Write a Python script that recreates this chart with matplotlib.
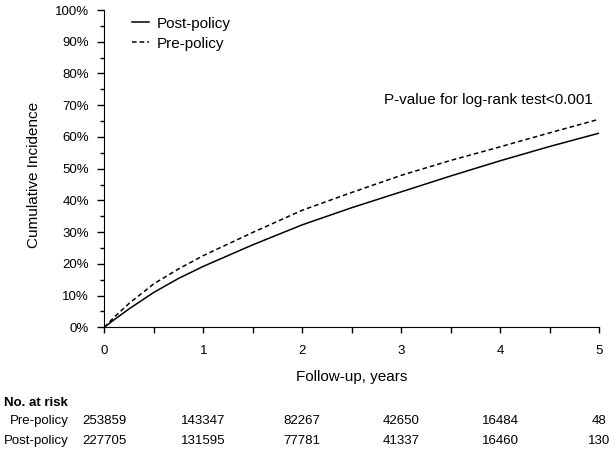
import matplotlib
matplotlib.use("Agg")
import matplotlib.pyplot as plt
from matplotlib.ticker import MultipleLocator, PercentFormatter
from matplotlib.transforms import blended_transform_factory

plt.rcParams['font.family'] = ['Liberation Sans', 'DejaVu Sans']

# cumulative incidence (%)
years = [0, 0.1, 0.25, 0.5, 0.75, 1, 1.5, 2, 2.5, 3, 3.5, 4, 4.5, 5]
post_policy = [0, 2.4, 5.8, 11.0, 15.4, 19.2, 26.0, 32.3, 37.7, 42.7, 47.7, 52.5, 57.0, 61.2]
pre_policy = [0, 3.2, 7.5, 13.7, 18.4, 22.6, 29.9, 36.9, 42.5, 47.9, 52.6, 56.9, 61.3, 65.6]

# number at risk table
risk_years = [0, 1, 2, 3, 4, 5]
risk_pre = ['253859', '143347', '82267', '42650', '16484', '48']
risk_post = ['227705', '131595', '77781', '41337', '16460', '130']

fig = plt.figure(figsize=(6.16, 4.51), dpi=100)
ax = fig.add_axes([0.1693, 0.2743, 0.8036, 0.7035])

ax.plot(years, post_policy, color='black', lw=1.1, label='Post-policy')
ax.plot(years, pre_policy, color='black', lw=1.1, dashes=(3, 2), label='Pre-policy')

ax.set_xlim(0, 5)
ax.set_ylim(0, 100)
ax.spines['top'].set_visible(False)
ax.spines['right'].set_visible(False)
ax.xaxis.set_major_locator(MultipleLocator(1))
ax.xaxis.set_minor_locator(MultipleLocator(0.5))
ax.yaxis.set_major_locator(MultipleLocator(10))
ax.yaxis.set_minor_locator(MultipleLocator(5))
ax.yaxis.set_major_formatter(PercentFormatter(xmax=100, decimals=0))
ax.tick_params(axis='x', which='both', direction='out', length=4, width=1, pad=9, labelsize=9.5)
ax.tick_params(axis='y', which='major', direction='out', length=5, width=1, pad=6, labelsize=9.5)
ax.tick_params(axis='y', which='minor', direction='out', length=3, width=1)

ax.set_ylabel('Cumulative Incidence', fontsize=11)
ax.set_xlabel('Follow-up, years', fontsize=11)
ax.yaxis.set_label_coords(-0.128, 0.48)
ax.xaxis.set_label_coords(0.5, -0.135)

ax.legend(loc='upper left', bbox_to_anchor=(0.028, 1.022), frameon=False, fontsize=11,
          handlelength=1.15, handletextpad=0.5, labelspacing=0.38)

ax.text(4.94, 71.6, 'P-value for log-rank test<0.001', ha='right', va='center', fontsize=11)

# risk table below the axis
trans = blended_transform_factory(ax.transData, fig.transFigure)
fig.text(0.007, 0.1064, 'No. at risk', fontsize=9.5, fontweight='bold', va='center')
fig.text(0.111, 0.0665, 'Pre-policy', fontsize=9.5, ha='right', va='center')
fig.text(0.111, 0.022, 'Post-policy', fontsize=9.5, ha='right', va='center')
for x, a, b in zip(risk_years, risk_pre, risk_post):
    ax.text(x, 0.0665, a, transform=trans, ha='center', va='center', fontsize=9.5, clip_on=False)
    ax.text(x, 0.022, b, transform=trans, ha='center', va='center', fontsize=9.5, clip_on=False)

fig.savefig('out.png', dpi=100)
